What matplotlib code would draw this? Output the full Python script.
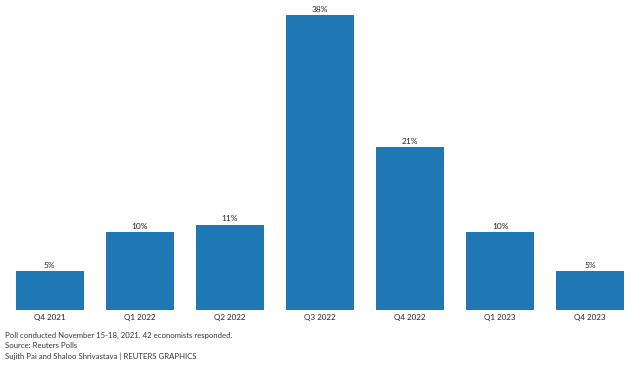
import matplotlib
matplotlib.use("Agg")
import matplotlib.pyplot as plt

plt.rcParams['font.family'] = ['Lato', 'DejaVu Sans']

quarters = ['Q4 2021', 'Q1 2022', 'Q2 2022', 'Q3 2022', 'Q4 2022', 'Q1 2023', 'Q4 2023']
share = [5, 10, 11, 38, 21, 10, 5]

fig = plt.figure(figsize=(6.4, 3.65), dpi=100)
ax = fig.add_axes([0.025, 0.1507, 0.95, 0.808])

x = range(len(quarters))
ax.bar(x, share, width=0.75, color='#1f77b4')
for i, v in zip(x, share):
    ax.text(i, v + 0.3, f'{v}%', ha='center', va='bottom', fontsize=6,
            color='#222222', clip_on=False)

ax.set_xlim(-0.375, len(quarters) - 0.625)
ax.set_ylim(0, 38)
ax.set_xticks(list(x))
ax.set_xticklabels(quarters, fontsize=5.8, color='#222222')
ax.tick_params(axis='x', length=0, pad=3)
ax.set_yticks([])
for s in ax.spines.values():
    s.set_visible(False)

notes = ['Poll conducted November 15-18, 2021. 42 economists responded.',
         'Source: Reuters Polls',
         'Sujith Pai and Shaloo Shrivastava | REUTERS GRAPHICS']
for k, line in enumerate(notes):
    fig.text(0.008, 1 - (335 + k * 10.5) / 365, line, fontsize=5.6,
             color='#333333', va='center', ha='left')

fig.savefig('out.png', dpi=100)
